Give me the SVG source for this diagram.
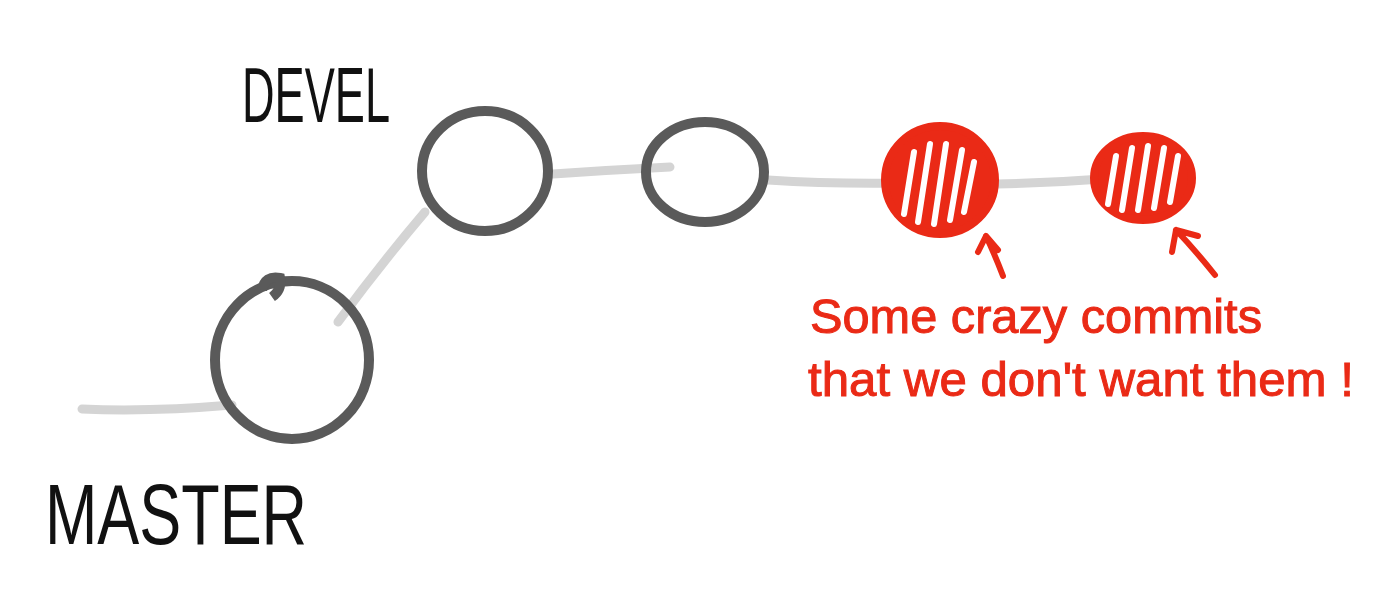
<svg xmlns="http://www.w3.org/2000/svg" width="1387" height="601" viewBox="0 0 1387 601">
<style>
.link{fill:none;stroke:#d4d4d4;stroke-width:9;stroke-linecap:round}
.commit{fill:none;stroke:#5a5a5a;stroke-width:10}
.crazy{fill:#ea2a16;stroke:#ea2a16;stroke-width:8}
.hatch{stroke:#ffffff;stroke-width:6;stroke-linecap:round}
.arrow{fill:none;stroke:#ea2a16;stroke-width:6;stroke-linecap:round;stroke-linejoin:round}
.label{font-family:"Liberation Sans",Arial,sans-serif;fill:#111}
.note{font-family:"Liberation Sans",Arial,sans-serif;fill:#ea2a16;stroke:#ea2a16;stroke-width:1}
</style>
<rect width="1387" height="601" fill="#ffffff"/>
<g id="connectors">
<path class="link" d="M82,409 Q150,412 232,405"/>
<path class="link" d="M338,322 Q380,265 425,212"/>
<path class="link" d="M553,174 Q610,170 670,167"/>
<path class="link" d="M768,180 Q830,184 900,183"/>
<path class="link" d="M997,184 Q1050,183 1102,179"/>
</g>
<g id="master-commit">
<ellipse class="commit" cx="292" cy="360" rx="77" ry="79"/>
<path class="commit" d="M262,290 Q265,275 280,278 Q282,290 272,297" stroke-width="8"/>
</g>
<g id="devel-commit-1">
<ellipse class="commit" cx="485" cy="171" rx="63" ry="60"/>
</g>
<g id="devel-commit-2">
<ellipse class="commit" cx="705" cy="172" rx="59" ry="50"/>
</g>
<g id="crazy-commit-1">
<ellipse class="crazy" cx="940" cy="180" rx="55" ry="54"/>
<g class="hatch">
<line x1="904" y1="214" x2="914" y2="152"/>
<line x1="918" y1="222" x2="930" y2="144"/>
<line x1="934" y1="224" x2="946" y2="144"/>
<line x1="950" y1="220" x2="962" y2="150"/>
<line x1="964" y1="212" x2="974" y2="162"/>
</g>
</g>
<g id="crazy-commit-2">
<ellipse class="crazy" cx="1143" cy="178" rx="49" ry="42"/>
<g class="hatch">
<line x1="1108" y1="204" x2="1116" y2="156"/>
<line x1="1122" y1="210" x2="1132" y2="148"/>
<line x1="1138" y1="210" x2="1148" y2="146"/>
<line x1="1154" y1="208" x2="1164" y2="148"/>
<line x1="1170" y1="202" x2="1178" y2="156"/>
</g>
</g>
<g id="arrows">
<path class="arrow" d="M1003,276 Q995,255 986,236 M978,252 L986,236 L998,250"/>
<path class="arrow" d="M1215,275 Q1195,250 1176,230 M1172,252 L1176,230 L1198,236"/>
</g>
<g id="devel-label">
<text class="label" x="242" y="122" font-size="78" textLength="148" lengthAdjust="spacingAndGlyphs">DEVEL</text>
</g>
<g id="master-label">
<text class="label" x="45" y="544" font-size="86" textLength="262" lengthAdjust="spacingAndGlyphs">MASTER</text>
</g>
<g id="note">
<text class="note" x="810" y="333" font-size="49" textLength="452" lengthAdjust="spacingAndGlyphs">Some crazy commits</text>
<text class="note" x="808" y="396" font-size="49" textLength="546" lengthAdjust="spacingAndGlyphs">that we don't want them !</text>
</g>
</svg>
